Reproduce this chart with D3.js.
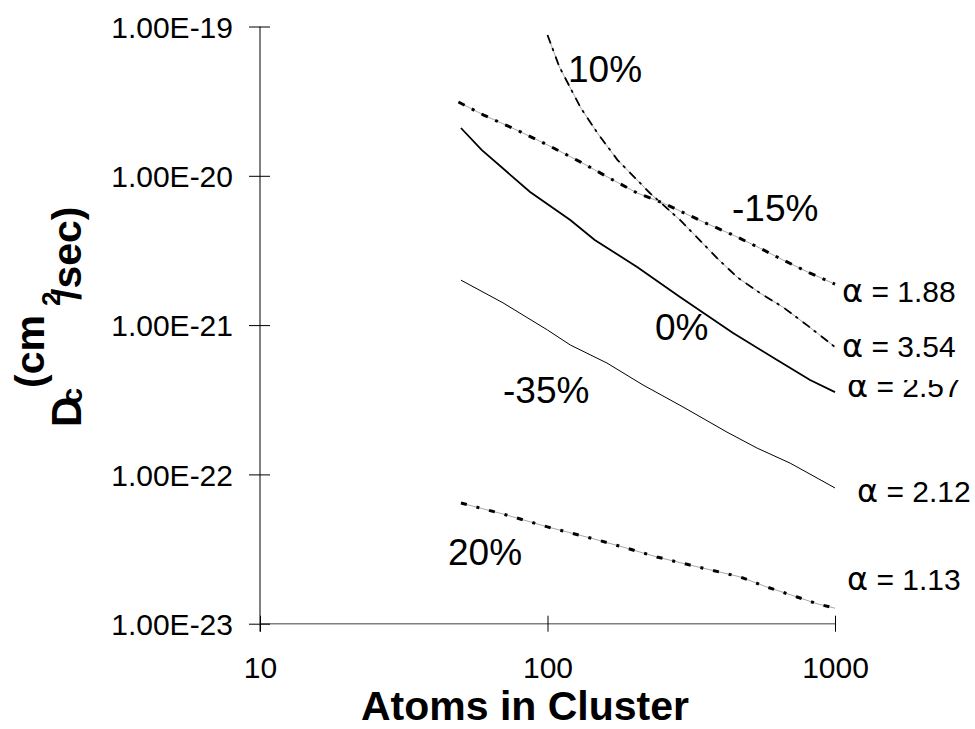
<!DOCTYPE html>
<html>
<head>
<meta charset="utf-8">
<script src="https://cdn.jsdelivr.net/npm/d3@7/dist/d3.min.js"></script>
<style>
  html, body { margin: 0; padding: 0; background: #fff; }
  svg { display: block; font-family: "Liberation Sans", Arial, sans-serif; }
</style>
</head>
<body>
<svg id="chart" width="975" height="729"></svg>
<script>
// ---- Data ----
const xTicks = [10, 100, 1000];
const yTicks = [1e-19, 1e-20, 1e-21, 1e-22, 1e-23];
const yTickLabels = ["1.00E-19", "1.00E-20", "1.00E-21", "1.00E-22", "1.00E-23"];

const atoms10 = [100, 110, 130, 149, 175, 227, 289, 389, 456, 548, 659, 799, 1000];
const diff10 = [8.77e-20, 5.36e-20, 2.89e-20, 1.94e-20, 1.28e-20, 7.67e-21, 5.06e-21, 2.81e-21, 2.10e-21, 1.64e-21, 1.32e-21, 1.00e-21, 7.13e-22];

const atomsM15 = [49, 60, 78, 100, 130, 169, 205, 252, 348, 442, 548, 659, 819, 1000];
const diffM15 = [3.12e-20, 2.55e-20, 2.03e-20, 1.61e-20, 1.24e-20, 9.37e-21, 7.67e-21, 6.58e-21, 4.91e-21, 4.01e-21, 3.28e-21, 2.73e-21, 2.23e-21, 1.88e-21];

const atoms0 = [50, 59, 87, 120, 146, 205, 289, 348, 442, 629, 819, 1000];
const diff0 = [2.09e-20, 1.49e-20, 7.79e-21, 5.06e-21, 3.72e-21, 2.45e-21, 1.54e-21, 1.21e-21, 8.85e-22, 5.84e-22, 4.29e-22, 3.56e-22];

const atomsM35 = [50, 70, 100, 120, 161, 215, 296, 421, 536, 698, 866, 1000];
const diffM35 = [2.00e-21, 1.41e-21, 9.27e-22, 7.36e-22, 5.57e-22, 3.97e-22, 2.83e-22, 1.92e-22, 1.50e-22, 1.19e-22, 9.46e-23, 8.11e-23];

const atoms20 = [50, 70, 100, 141, 183, 240, 313, 467, 580, 738, 866, 1000];
const diff20 = [6.43e-23, 5.43e-23, 4.45e-23, 3.75e-23, 3.26e-23, 2.80e-23, 2.47e-23, 2.06e-23, 1.76e-23, 1.51e-23, 1.36e-23, 1.27e-23];

const seriesNames = ["10%", "-15%", "0%", "-35%", "20%"];
const alphaValues = ["1.88", "3.54", "2.57", "2.12", "1.13"];

// ---- Chart ----
const svg = d3.select("#chart");
const x = d3.scaleLog().domain([10, 1000]).range([260, 835]);
const y = d3.scaleLog().domain([1e-23, 1e-19]).range([623.7, 26.5]);

const series = [
  { atoms: atoms10,  diff: diff10,  style: "dash10" },
  { atoms: atomsM15, diff: diffM15, style: "dashM15" },
  { atoms: atoms0,   diff: diff0,   style: "solidThick" },
  { atoms: atomsM35, diff: diffM35, style: "solidThin" },
  { atoms: atoms20,  diff: diff20,  style: "dash20" }
];

const line = d3.line().x(d => x(d[0])).y(d => y(d[1]));

// Axes
const xAxis = d3.axisBottom(x).tickValues(xTicks).tickFormat(d3.format("d")).tickSize(0);
const gx = svg.append("g").attr("transform", `translate(0,${y(1e-23)})`).call(xAxis);
gx.select(".domain").attr("stroke", "#808080").attr("stroke-width", 1.6).attr("d", `M${x(10)},0H${x(1000)}`);
gx.selectAll(".tick line").remove();
gx.selectAll(".tick").append("line").attr("y1", -8).attr("y2", 8).attr("stroke", "#000").attr("stroke-width", 1);
gx.selectAll(".tick text").attr("y", 54).attr("dy", 0).attr("font-size", 30)
  .attr("font-family", '"Liberation Sans", Arial, sans-serif').attr("fill", "#000");

const yAxis = d3.axisLeft(y).tickValues(yTicks).tickFormat((d, i) => yTickLabels[i]).tickSize(0);
const gy = svg.append("g").attr("transform", `translate(${x(10)},0)`).call(yAxis);
gy.select(".domain").attr("stroke", "#000").attr("stroke-width", 1).attr("d", `M0,${y(1e-19)}V${y(1e-23) + 8}`);
gy.selectAll(".tick line").remove();
gy.selectAll(".tick").append("line").attr("x1", -11).attr("x2", 10).attr("stroke", "#000").attr("stroke-width", 1);
gy.selectAll(".tick text").attr("x", -27).attr("dy", "0.36em").attr("font-size", 30)
  .attr("font-family", '"Liberation Sans", Arial, sans-serif').attr("fill", "#000");

// Series lines
series.forEach(s => {
  const pts = s.atoms.map((a, i) => [a, s.diff[i]]);
  const g = svg.append("g");
  if (s.style === "solidThick") {
    g.append("path").attr("d", line(pts)).attr("fill", "none").attr("stroke", "#000").attr("stroke-width", 1.8);
  } else if (s.style === "solidThin") {
    g.append("path").attr("d", line(pts)).attr("fill", "none").attr("stroke", "#000").attr("stroke-width", 1);
  } else {
    g.append("path").attr("d", line(pts)).attr("fill", "none").attr("stroke", "#a8a8a8").attr("stroke-width", 1);
    const dash = s.style === "dash10" ? "9,5,3,6" : (s.style === "dashM15" ? "7,8,3,8" : "6,10,3,10");
    const w = s.style === "dash10" ? 1.8 : 3;
    g.append("path").attr("d", line(pts)).attr("fill", "none").attr("stroke", "#000")
      .attr("stroke-width", w).attr("stroke-dasharray", dash);
  }
});

// Series name labels
const nameLayout = [[568, 82], [732, 221], [655, 340], [503, 403], [448, 565]];
svg.selectAll("text.sname").data(seriesNames).join("text")
  .attr("class", "sname")
  .attr("x", (d, i) => nameLayout[i][0]).attr("y", (d, i) => nameLayout[i][1])
  .attr("font-size", 37).attr("fill", "#000").text(d => d);

// Alpha labels
svg.append("clipPath").attr("id", "clip257")
  .append("rect").attr("x", 0).attr("y", 380).attr("width", 975).attr("height", 340);
const alphaLayout = [[842, 302], [842, 357], [847, 397], [857, 502], [847, 590]];
const at = svg.selectAll("text.alpha").data(alphaValues).join("text")
  .attr("class", "alpha")
  .attr("x", (d, i) => alphaLayout[i][0]).attr("y", (d, i) => alphaLayout[i][1])
  .attr("font-size", 30).attr("fill", "#000")
  .attr("clip-path", (d, i) => i === 2 ? "url(#clip257)" : null);
at.append("tspan").attr("font-size", 32).attr("font-family", '"DejaVu Sans", sans-serif').text("α");
at.append("tspan").text(d => " = " + d);

// Axis titles
svg.append("text").attr("x", 525).attr("y", 720).attr("text-anchor", "middle")
  .attr("font-size", 41).attr("font-weight", "bold").text("Atoms in Cluster");

const yt = svg.append("g").attr("font-weight", "bold").attr("fill", "#000");
yt.append("text").attr("transform", "translate(81,427) rotate(-90)").attr("font-size", 42).text("D");
yt.append("text").attr("transform", "translate(82,404) rotate(-90)").attr("font-size", 29).text("c");
yt.append("text").attr("transform", "translate(44,388) rotate(-90)").attr("font-size", 41).text("(cm");
yt.append("text").attr("transform", "translate(60,306) rotate(-90)").attr("font-size", 26).text("2");
yt.append("text").attr("transform", "translate(81,300) rotate(-90)").attr("font-size", 41).text("/sec)");
</script>
</body>
</html>
